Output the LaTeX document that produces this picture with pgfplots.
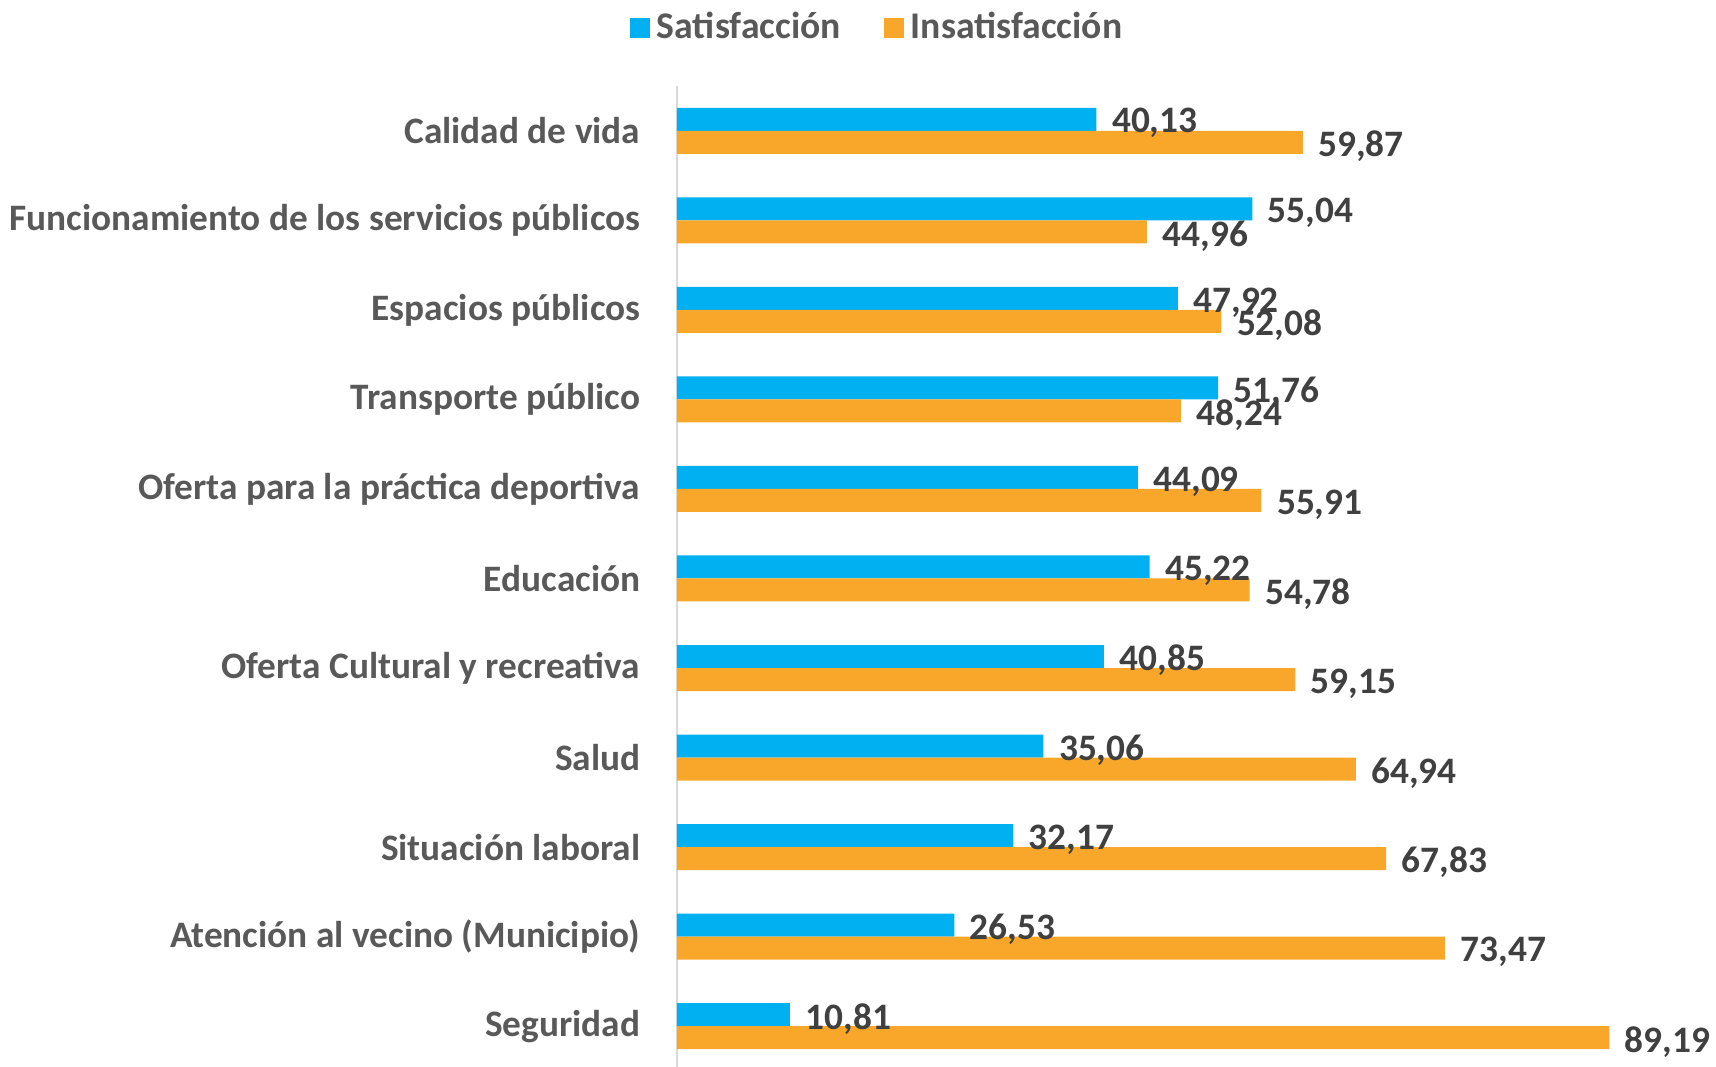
\documentclass[border=0pt]{standalone}
\usepackage{fontspec}
\setmainfont{Carlito}
\usepackage{pgfplots}
\pgfplotsset{compat=1.18}
\definecolor{cblue}{HTML}{00B0F0}
\definecolor{corange}{HTML}{F9A72B}
\definecolor{cattxt}{HTML}{595959}
\definecolor{valtxt}{HTML}{404040}
\definecolor{axgray}{HTML}{D9D9D9}
\begin{document}
\begin{tikzpicture}
\begin{axis}[
  scale only axis, width=311.7pt, height=295.5pt,
  xbar, bar width=6.9pt,
  xmin=0, xmax=99.4, ymin=-0.5, ymax=10.5,
  axis x line=none, axis y line*=left,
  y axis line style={draw=axgray, line width=0.6pt, -},
  ytick={0,...,10},
  yticklabels={Seguridad, Atención al vecino (Municipio), Situación laboral, Salud, Oferta Cultural y recreativa, Educación, Oferta para la práctica deportiva, Transporte público, Espacios públicos, Funcionamiento de los servicios públicos, Calidad de vida\hspace{2.7pt}},
  ytick style={draw=none}, major tick length=0pt,
  yticklabel style={font=\fontsize{11.2}{13}\selectfont\bfseries, text=cattxt, inner sep=0pt, anchor=east, xshift=-10.8pt},
  nodes near coords,
  nodes near coords style={font=\fontsize{11.2}{12}\selectfont\bfseries, text=valtxt, anchor=west, inner sep=0pt, xshift=4.5pt, yshift=-1.2pt},
  /pgf/number format/.cd, use comma, fixed, fixed zerofill, precision=2, assume math mode=true,
  /pgfplots/.cd,
  legend columns=2,
  legend image code/.code={\fill[#1] (0pt,-3pt) rectangle (6pt,3pt);},
  legend style={draw=none, fill=none, at={(0.195,1.059)}, anchor=center,
    font=\fontsize{11.3}{13}\selectfont\bfseries, text=cattxt,
    /tikz/every even column/.append style={column sep=11pt}},
]
\addplot[fill=cblue, draw=none, bar shift=3.45pt] coordinates {
 (40.13,10) (55.04,9) (47.92,8) (51.76,7) (44.09,6) (45.22,5) (40.85,4) (35.06,3) (32.17,2) (26.53,1) (10.81,0)};
\addplot[fill=corange, draw=none, bar shift=-3.45pt] coordinates {
 (59.87,10) (44.96,9) (52.08,8) (48.24,7) (55.91,6) (54.78,5) (59.15,4) (64.94,3) (67.83,2) (73.47,1) (89.19,0)};
\legend{Satisfacción, Insatisfacción}
\coordinate (A) at (rel axis cs:0,0);
\coordinate (B) at (rel axis cs:1,1);
\end{axis}
\pgfresetboundingbox
\path ([xshift=-203.1pt,yshift=1.2pt]A) rectangle ([yshift=25.8pt]B);
\end{tikzpicture}
\end{document}
